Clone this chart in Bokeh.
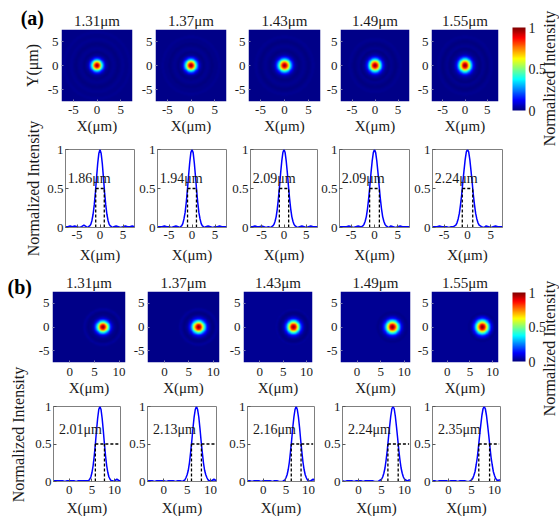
import numpy as np
from bokeh.plotting import figure
from bokeh.layouts import row, column
from bokeh.models import Range1d, FixedTicker, LinearColorMapper, ColorBar
from bokeh.core.properties import value
from bokeh.embed import file_html
from bokeh.resources import INLINE

FONT = "Liberation Serif"
TXT = "#1a1a1a"

# ---------------- data ----------------
wavelengths = ["1.31μm", "1.37μm", "1.43μm", "1.49μm", "1.55μm"]
fwhm_a = [1.86, 1.94, 2.09, 2.09, 2.24]
fwhm_b = [2.01, 2.13, 2.16, 2.24, 2.35]
center_a = [0.0, 0.0, 0.0, 0.0, 0.0]
center_b = [6.75, 7.0, 7.25, 7.5, 7.75]

ticks_xa = [-5, 0, 5]
ticks_xb = [0, 5, 10]
ticks_y_heat = [-5, 0, 5]
ticks_int = [0, 0.5, 1]

x_a = [-7.5, -7, -6.5, -6, -5.5, -5, -4.5, -4, -3.5,
       -3, -2.75, -2.5, -2.25, -2, -1.75, -1.5, -1.25, -1, -0.75, -0.5, -0.25, 0,
       0.25, 0.5, 0.75, 1, 1.25, 1.5, 1.75, 2, 2.25, 2.5, 2.75, 3,
       3.5, 4, 4.5, 5, 5.5, 6, 6.5, 7, 7.5]

prof_a1 = [0.01, 0.01, 0.02, 0.01, 0.02, 0.01, 0.00, 0.01, 0.03,
           0.01, 0.00, 0.01, 0.02, 0.04, 0.09, 0.17, 0.29, 0.45, 0.64, 0.82, 0.95, 1.00,
           0.95, 0.82, 0.64, 0.45, 0.29, 0.17, 0.09, 0.04, 0.02, 0.01, 0.00, 0.01,
           0.02, 0.01, 0.00, 0.01, 0.02, 0.01, 0.01, 0.02, 0.01]
prof_a2 = [0.01, 0.01, 0.01, 0.02, 0.01, 0.01, 0.00, 0.01, 0.02,
           0.01, 0.00, 0.01, 0.02, 0.05, 0.11, 0.19, 0.32, 0.48, 0.66, 0.83, 0.96, 1.00,
           0.96, 0.83, 0.66, 0.48, 0.32, 0.19, 0.11, 0.05, 0.02, 0.01, 0.00, 0.01,
           0.02, 0.01, 0.00, 0.01, 0.01, 0.02, 0.01, 0.01, 0.01]
prof_a3 = [0.01, 0.01, 0.02, 0.01, 0.01, 0.02, 0.01, 0.00, 0.01,
           0.00, 0.01, 0.02, 0.04, 0.08, 0.14, 0.24, 0.37, 0.53, 0.70, 0.85, 0.96, 1.00,
           0.96, 0.85, 0.70, 0.53, 0.37, 0.24, 0.14, 0.08, 0.04, 0.02, 0.01, 0.00,
           0.01, 0.02, 0.01, 0.00, 0.01, 0.02, 0.01, 0.01, 0.01]
prof_a4 = [0.01, 0.01, 0.01, 0.01, 0.02, 0.01, 0.00, 0.01, 0.02,
           0.01, 0.01, 0.02, 0.04, 0.08, 0.14, 0.24, 0.37, 0.53, 0.70, 0.85, 0.96, 1.00,
           0.96, 0.85, 0.70, 0.53, 0.37, 0.24, 0.14, 0.08, 0.04, 0.02, 0.01, 0.00,
           0.02, 0.01, 0.00, 0.01, 0.02, 0.01, 0.01, 0.01, 0.01]
prof_a5 = [0.01, 0.01, 0.01, 0.02, 0.01, 0.01, 0.01, 0.00, 0.01,
           0.01, 0.02, 0.03, 0.06, 0.11, 0.18, 0.29, 0.42, 0.58, 0.73, 0.87, 0.97, 1.00,
           0.97, 0.87, 0.73, 0.58, 0.42, 0.29, 0.18, 0.11, 0.06, 0.03, 0.02, 0.01,
           0.00, 0.02, 0.01, 0.00, 0.01, 0.02, 0.01, 0.01, 0.01]

x_b = [-3.5, -3, -2.5, -2, -1.5, -1, -0.5, 0, 0.5, 1, 1.5, 2, 2.5, 3, 3.5,
       4, 4.25, 4.5, 4.75, 5, 5.25, 5.5, 5.75, 6, 6.25, 6.5, 6.75, 7, 7.25, 7.5,
       7.75, 8, 8.25, 8.5, 8.75, 9, 9.25, 9.5, 9.75, 10, 10.25, 10.5, 10.75, 11, 11.25]

prof_b1 = [0.01, 0.01, 0.01, 0.01, 0.01, 0.00, 0.01, 0.01, 0.01, 0.01, 0.00, 0.01, 0.01, 0.01, 0.01,
           0.01, 0.01, 0.03, 0.06, 0.12, 0.21, 0.34, 0.50, 0.68, 0.84, 0.96, 1.00, 0.96, 0.84, 0.68,
           0.50, 0.34, 0.21, 0.12, 0.06, 0.03, 0.01, 0.01, 0.00, 0.01, 0.02, 0.03, 0.02, 0.01, 0.01]
prof_b2 = [0.01, 0.01, 0.01, 0.00, 0.01, 0.01, 0.01, 0.01, 0.00, 0.01, 0.01, 0.01, 0.00, 0.01, 0.01,
           0.00, 0.01, 0.02, 0.05, 0.09, 0.15, 0.25, 0.39, 0.54, 0.71, 0.86, 0.96, 1.00, 0.96, 0.86,
           0.71, 0.54, 0.39, 0.25, 0.15, 0.09, 0.05, 0.02, 0.01, 0.00, 0.01, 0.02, 0.03, 0.02, 0.01]
prof_b3 = [0.01, 0.01, 0.00, 0.01, 0.01, 0.01, 0.00, 0.01, 0.01, 0.01, 0.01, 0.00, 0.01, 0.01, 0.00,
           0.00, 0.00, 0.01, 0.02, 0.05, 0.09, 0.16, 0.26, 0.40, 0.55, 0.72, 0.86, 0.96, 1.00, 0.96,
           0.86, 0.72, 0.55, 0.40, 0.26, 0.16, 0.09, 0.05, 0.02, 0.01, 0.00, 0.01, 0.02, 0.03, 0.02]
prof_b4 = [0.01, 0.00, 0.01, 0.01, 0.01, 0.00, 0.01, 0.01, 0.01, 0.00, 0.01, 0.01, 0.01, 0.01, 0.00,
           0.00, 0.00, 0.01, 0.02, 0.03, 0.06, 0.11, 0.18, 0.29, 0.42, 0.58, 0.73, 0.87, 0.97, 1.00,
           0.97, 0.87, 0.73, 0.58, 0.42, 0.29, 0.18, 0.11, 0.06, 0.03, 0.02, 0.01, 0.01, 0.02, 0.02]
prof_b5 = [0.01, 0.01, 0.00, 0.01, 0.01, 0.01, 0.01, 0.00, 0.01, 0.01, 0.01, 0.00, 0.01, 0.01, 0.01,
           0.00, 0.00, 0.00, 0.01, 0.02, 0.04, 0.08, 0.13, 0.22, 0.32, 0.46, 0.61, 0.75, 0.88, 0.97,
           1.00, 0.97, 0.88, 0.75, 0.61, 0.46, 0.32, 0.22, 0.13, 0.08, 0.04, 0.02, 0.01, 0.02, 0.02]

profiles_a = [prof_a1, prof_a2, prof_a3, prof_a4, prof_a5]
profiles_b = [prof_b1, prof_b2, prof_b3, prof_b4, prof_b5]

# ---------------- styling / layout ----------------
XR_A = (-7.5, 7.5)
XR_B = (-3.5, 11.3)
YR_HEAT = (-7.5, 7.5)

# pixel geometry: (row top, frame top, frame bottom, row bottom)
ROWS = {
    "HA": (0, 29, 101, 139),
    "PA": (139, 149, 227, 270),
    "HB": (270, 291, 362, 400),
    "PB": (400, 406, 481, 523),
}
COLS = {
    "HA": (44, [(60, 132), (155, 226), (248, 320), (340, 409), (431, 498)]),
    "PA": (44, [(64, 134), (157, 226), (250, 317), (339, 409), (432, 502)]),
    "HB": (32, [(52, 125), (147, 219), (243, 312), (340, 410), (431, 498)]),
    "PB": (32, [(52, 120), (147, 216), (247, 314), (342, 410), (432, 500)]),
}
STANDOFF = {"HA": (4, 1, 3), "PA": (3, 5, 2), "HB": (5, 1, 3), "PB": (4, 3, 2)}
RIGHT = 504
TOTAL_W = 559


def jet_palette(n=256):
    t = np.linspace(0, 1, n)
    r = np.clip(1.5 - np.abs(4 * t - 3), 0, 1)
    g = np.clip(1.5 - np.abs(4 * t - 2), 0, 1)
    b = np.clip(1.5 - np.abs(4 * t - 1), 0, 1)
    return ["#%02x%02x%02x" % (int(round(255 * a)), int(round(255 * c)), int(round(255 * d)))
            for a, c, d in zip(r, g, b)]


mapper = LinearColorMapper(palette=jet_palette(), low=0, high=1)


def overrides(ticks):
    return {t: str(t) for t in ticks}


def base_fig(key, i, xr, yr, title=None):
    rt, ft, fb, rb = ROWS[key]
    start, frames = COLS[key]
    fl, fr = frames[i]
    left = start if i == 0 else frames[i - 1][1] + 1
    right = RIGHT if i == 4 else fr + 1
    p = figure(width=right - left, height=rb - rt,
               x_range=Range1d(*xr), y_range=Range1d(*yr),
               min_border_left=fl - left, min_border_right=right - fr,
               min_border_top=ft - rt, min_border_bottom=rb - fb,
               toolbar_location=None, output_backend="svg", title=title)
    p.grid.visible = False
    xs_, xl_, ys_ = STANDOFF[key]
    for ax in p.axis:
        ax.major_label_text_font = FONT
        ax.major_label_text_font_size = "13px"
        ax.major_label_text_color = TXT
        ax.axis_label_text_font = FONT
        ax.axis_label_text_font_size = "15px"
        ax.axis_label_text_font_style = "normal"
        ax.axis_label_text_color = TXT
        ax.minor_tick_line_color = None
        ax.major_tick_out = 0
        ax.major_tick_in = 3
    p.xaxis.major_label_standoff = xs_
    p.xaxis.axis_label_standoff = xl_
    p.yaxis.major_label_standoff = ys_
    p.xaxis.axis_label = "X(μm)"
    if title is not None:
        p.title.text_font = FONT
        p.title.text_font_size = "15px"
        p.title.text_font_style = "normal"
        p.title.text_color = TXT
        p.title.align = "center"
        p.title.standoff = 1
    return p


def heat_fig(key, i, xr, xticks, xs, prof, c):
    p = base_fig(key, i, xr, YR_HEAT, title=wavelengths[i])
    xs = np.asarray(xs, float)
    prof = np.asarray(prof, float)
    mask = xs >= c
    dist = xs[mask] - c
    vals = prof[mask]
    gx = np.linspace(xr[0], xr[1], 160)
    gy = np.linspace(YR_HEAT[0], YR_HEAT[1], 160)
    X, Y = np.meshgrid(gx, gy)
    img = np.interp(np.hypot(X - c, Y), dist, vals)
    p.image(image=[img], x=xr[0], y=YR_HEAT[0], dw=xr[1] - xr[0],
            dh=YR_HEAT[1] - YR_HEAT[0], color_mapper=mapper)
    p.outline_line_color = None
    for ax in p.axis:
        ax.axis_line_color = None
        ax.major_tick_line_color = "#8080b0"
        ax.major_tick_in = 2
    p.xaxis.ticker = FixedTicker(ticks=xticks)
    p.xaxis.major_label_overrides = overrides(xticks)
    p.yaxis.ticker = FixedTicker(ticks=ticks_y_heat)
    p.yaxis.major_label_overrides = overrides(ticks_y_heat)
    return p


def prof_fig(key, i, xr, xticks, xs, prof, c, fw, hend, lab_xy):
    p = base_fig(key, i, xr, (0, 1))
    p.line(xs, prof, line_color="#0000ff", line_width=1.5)
    l, r = c - fw / 2, c + fw / 2
    p.segment(x0=[l, r, l], y0=[0, 0, 0.5], x1=[l, r, hend if hend is not None else r],
              y1=[0.5, 0.5, 0.5], line_color="black", line_width=1.3, line_dash="3 2")
    p.text(x=[lab_xy[0]], y=[lab_xy[1]], text=["%.2fμm" % fw], text_font=value(FONT),
           text_font_size="14px", text_align="left", text_baseline="middle", text_color=TXT)
    p.outline_line_color = "#7f7f7f"
    for ax in p.axis:
        ax.axis_line_color = "#7f7f7f"
        ax.major_tick_line_color = "#555555"
    p.xaxis.ticker = FixedTicker(ticks=xticks)
    p.xaxis.major_label_overrides = overrides(xticks)
    p.yaxis.ticker = FixedTicker(ticks=ticks_int)
    p.yaxis.major_label_overrides = overrides(ticks_int)
    return p


def text_fig(width, height):
    p = figure(width=width, height=height, x_range=Range1d(0, width), y_range=Range1d(0, height),
               min_border=0, toolbar_location=None, output_backend="svg",
               x_axis_location=None, y_axis_location=None)
    p.grid.visible = False
    p.outline_line_color = None
    return p


def vtext(p, x, y, s, size="16px"):
    p.text(x=[x], y=[y], text=[s], angle=np.pi / 2, text_font=value(FONT), text_font_size=size,
           text_align="center", text_baseline="middle", text_color=TXT)


def cbar_fig(height, bar_top, bar_h, label_y):
    w = TOTAL_W - RIGHT
    p = text_fig(w, height)
    cb = ColorBar(color_mapper=mapper, ticker=FixedTicker(ticks=ticks_int),
                  major_label_overrides=overrides(ticks_int), width=13, height=bar_h,
                  location=(8, height - bar_top - bar_h), padding=0, margin=0, label_standoff=3,
                  major_tick_line_color=None, bar_line_color=None, border_line_color=None,
                  background_fill_color=None, major_label_text_font=FONT,
                  major_label_text_font_size="14px", major_label_text_color=TXT)
    p.add_layout(cb, "center")
    vtext(p, 45, height - label_y, "Normalized Intensity")
    return p


# ---------------- build ----------------
HA = [heat_fig("HA", i, XR_A, ticks_xa, x_a, profiles_a[i], center_a[i]) for i in range(5)]
PA = [prof_fig("PA", i, XR_A, ticks_xa, x_a, profiles_a[i], center_a[i], fwhm_a[i], None, (-7.0, 0.63))
      for i in range(5)]
HB = [heat_fig("HB", i, XR_B, ticks_xb, x_b, profiles_b[i], center_b[i]) for i in range(5)]
PB = [prof_fig("PB", i, XR_B, ticks_xb, x_b, profiles_b[i], center_b[i], fwhm_b[i], 11.0, (-2.3, 0.70))
      for i in range(5)]

hA = ROWS["PA"][3] - ROWS["HA"][0]
hB = ROWS["PB"][3] - ROWS["HB"][0]

leftA = text_fig(COLS["HA"][0], hA)
leftA.text(x=[43.5], y=[hA - 17], text=["(a)"], text_font=value(FONT), text_font_size="20px",
           text_font_style="bold", text_align="right", text_baseline="middle", text_color="black")
vtext(leftA, 32, hA - 65, "Y(μm)")
vtext(leftA, 33, hA - 188, "Normalized Intensity")

leftB = text_fig(COLS["HB"][0], hB)
leftB.text(x=[31.5], y=[hB - 16], text=["(b)"], text_font=value(FONT), text_font_size="20px",
           text_font_style="bold", text_align="right", text_baseline="middle", text_color="black")
vtext(leftB, 18, hB - 164, "Normalized Intensity")

cbarA = cbar_fig(hA, 27, 83, 78)
cbarB = cbar_fig(hB, 22, 69, 78)

top = row(leftA, column(row(*HA), row(*PA)), cbarA)
bot = row(leftB, column(row(*HB), row(*PB)), cbarB)
layout = column(top, bot)

open("out.html", "w").write(file_html(layout, INLINE))
